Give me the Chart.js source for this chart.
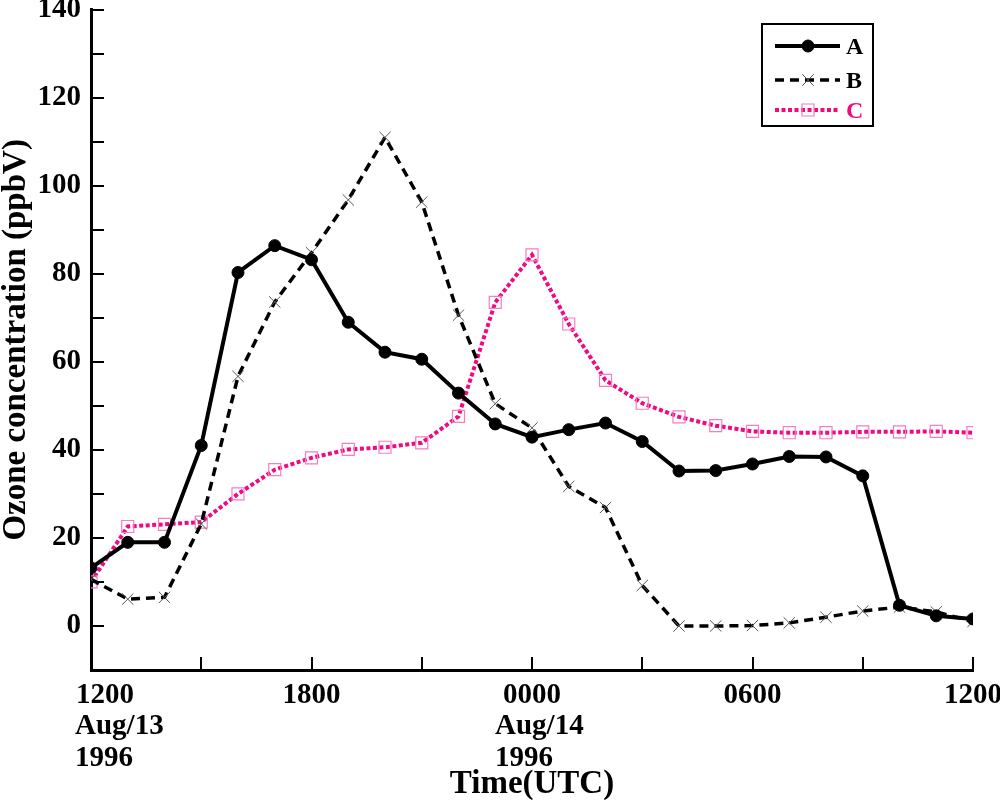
<!DOCTYPE html>
<html>
<head>
<meta charset="utf-8">
<script src="https://cdn.jsdelivr.net/npm/chart.js@4/dist/chart.umd.min.js"></script>
<style>
html,body{margin:0;padding:0;background:#fff;}
#c{display:block;}
</style>
</head>
<body>
<canvas id="c" width="1000" height="803" style="width:1000px;height:803px"></canvas>
<script>
// Hours after 1200 UTC Aug/13 1996
const hours = [0,1,2,3,4,5,6,7,8,9,10,11,12,13,14,15,16,17,18,19,20,21,22,23,24];
const seriesA = [13.2,19,19,41,80.3,86.4,83.2,69,62.2,60.6,52.9,45.9,42.9,44.6,46.1,41.9,35.2,35.3,36.8,38.5,38.4,34.1,4.7,2.3,1.6];
const seriesB = [10.6,6.1,6.5,23.2,56.7,73.6,84.8,96.8,111,96.3,70.6,50.5,45,31.7,26.9,9.2,0,0,0.1,0.7,2,3.4,4.3,3.2,1];
const seriesC = [10,22.6,23.1,23.6,30,35.5,38.2,40.1,40.6,41.6,47.6,73.5,84.3,68.6,55.8,50.6,47.5,45.5,44.2,43.9,43.9,44.1,44.1,44.2,43.9];
const seriesNames = ['A','B','C'];
const xTickValues = [0,6,12,18,24];
const xTickLabels = ['1200','1800','0000','0600','1200'];
const dateLabels = {0:['Aug/13','1996'], 12:['Aug/14','1996']};
const yTitle = 'Ozone concentration (ppbV)';
const xTitle = 'Time(UTC)';

const FONT = "'Liberation Serif','Times New Roman',serif";
const MAG = '#F00A82';

function pts(arr){ return arr.map((v,i)=>({x:hours[i], y:v})); }

const insideTicks = {
  id:'insideTicks',
  afterDraw(chart){
    const ctx = chart.ctx, ca = chart.chartArea;
    const ys = chart.scales.y, xs = chart.scales.x;
    ctx.save();
    ctx.strokeStyle = '#000';
    ctx.lineWidth = 2;
    for(let v=-10; v<=140; v+=10){
      const y = Math.round(ys.getPixelForValue(v));
      ctx.beginPath(); ctx.moveTo(ca.left, y); ctx.lineTo(ca.left+13, y); ctx.stroke();
    }
    for(let v=0; v<=24; v+=3){
      const x = Math.round(xs.getPixelForValue(v));
      ctx.beginPath(); ctx.moveTo(x, ca.bottom); ctx.lineTo(x, ca.bottom-13); ctx.stroke();
    }
    // x tick labels
    ctx.fillStyle = '#000';
    ctx.font = "bold 29px " + FONT;
    ctx.textBaseline = 'top';
    xTickValues.forEach((v,i)=>{
      const x = xs.getPixelForValue(v);
      let cx = x;
      if (i === 0) cx = x + 14;
      ctx.textAlign = 'center';
      ctx.fillText(xTickLabels[i], cx, ca.bottom + 11);
      if (dateLabels[v]) {
        ctx.textAlign = 'left';
        const lx = (i === 0) ? x - 16 : x - 37;
        ctx.fillText(dateLabels[v][0], lx, ca.bottom + 42);
        ctx.fillText(dateLabels[v][1], lx, ca.bottom + 74);
      }
    });
    ctx.restore();
  }
};

const boxLegend = {
  id:'boxLegend',
  afterDraw(chart){
    const ctx = chart.ctx;
    ctx.save();
    ctx.strokeStyle = '#000';
    ctx.lineWidth = 2;
    ctx.strokeRect(762, 24, 111, 102);
    const rows = [46, 80, 110];
    chart.data.datasets.forEach((ds, i)=>{
      const y = rows[i];
      ctx.save();
      ctx.strokeStyle = ds.borderColor;
      ctx.lineWidth = ds.borderWidth;
      ctx.setLineDash(ds.borderDash || []);
      ctx.beginPath(); ctx.moveTo(775, y); ctx.lineTo(840, y); ctx.stroke();
      ctx.setLineDash([]);
      ctx.restore();
      ctx.save();
      ctx.strokeStyle = ds.pointBorderColor;
      ctx.fillStyle = ds.pointBackgroundColor;
      ctx.lineWidth = ds.pointBorderWidth;
      Chart.helpers.drawPoint(ctx, {pointStyle: ds.pointStyle, radius: ds.pointRadius, borderWidth: ds.pointBorderWidth, rotation:0}, 808, y);
      ctx.restore();
      ctx.fillStyle = ds.legendTextColor;
      ctx.font = "bold 24px " + FONT;
      ctx.textAlign = 'left';
      ctx.textBaseline = 'middle';
      ctx.fillText(ds.label, 846, y + 2);
    });
    ctx.restore();
  }
};

new Chart(document.getElementById('c'), {
  type:'line',
  data:{
    datasets:[
      { label: seriesNames[0], data: pts(seriesA), borderColor:'#000', borderWidth:4, pointStyle:'circle', pointRadius:6,
        pointBackgroundColor:'#000', pointBorderColor:'#000', pointBorderWidth:1, legendTextColor:'#000', tension:0 },
      { label: seriesNames[1], data: pts(seriesB), borderColor:'#000', borderWidth:3.5, borderDash:[9,6], pointStyle:'crossRot', pointRadius:8,
        pointBackgroundColor:'rgba(0,0,0,0)', pointBorderColor:'#555', pointBorderWidth:1, legendTextColor:'#000', tension:0 },
      { label: seriesNames[2], data: pts(seriesC), borderColor:MAG, borderWidth:4, borderDash:[4,2.5], pointStyle:'rect', pointRadius:8.5,
        pointBackgroundColor:'rgba(0,0,0,0)', pointBorderColor:'#F47EC0', pointBorderWidth:1.2, legendTextColor:MAG, tension:0 }
    ]
  },
  options:{
    responsive:false,
    animation:false,
    devicePixelRatio:1,
    layout:{ padding:{ top:6, right:27, left:0, bottom:0 } },
    plugins:{ legend:{display:false}, tooltip:{enabled:false} },
    scales:{
      x:{
        type:'linear', min:0, max:24,
        grid:{ display:false, drawTicks:false },
        border:{ display:true, color:'#000', width:3 },
        ticks:{ display:false, stepSize:3 },
        title:{ display:true, text:xTitle, color:'#000', font:{family:FONT, size:33, weight:'bold', lineHeight:1}, padding:{top:0,bottom:2} },
        afterFit(s){ s.height = 133; s.paddingLeft = 0; s.paddingRight = 0; }
      },
      y:{
        type:'linear', min:-10, max:140,
        grid:{ display:false, drawTicks:false },
        border:{ display:true, color:'#000', width:3 },
        ticks:{ stepSize:10, padding:10, color:'#000', font:{family:FONT, size:29, weight:'bold'},
          callback:(v)=> (v>=0 && v%20===0) ? String(v) : '' },
        title:{ display:true, text:yTitle, color:'#000', font:{family:FONT, size:33, weight:'bold', lineHeight:1}, padding:{top:0,bottom:0} },
        afterFit(s){ s.width = 91; s.paddingTop = 0; s.paddingBottom = 0; }
      }
    }
  },
  plugins:[insideTicks, boxLegend]
});
</script>
</body>
</html>
